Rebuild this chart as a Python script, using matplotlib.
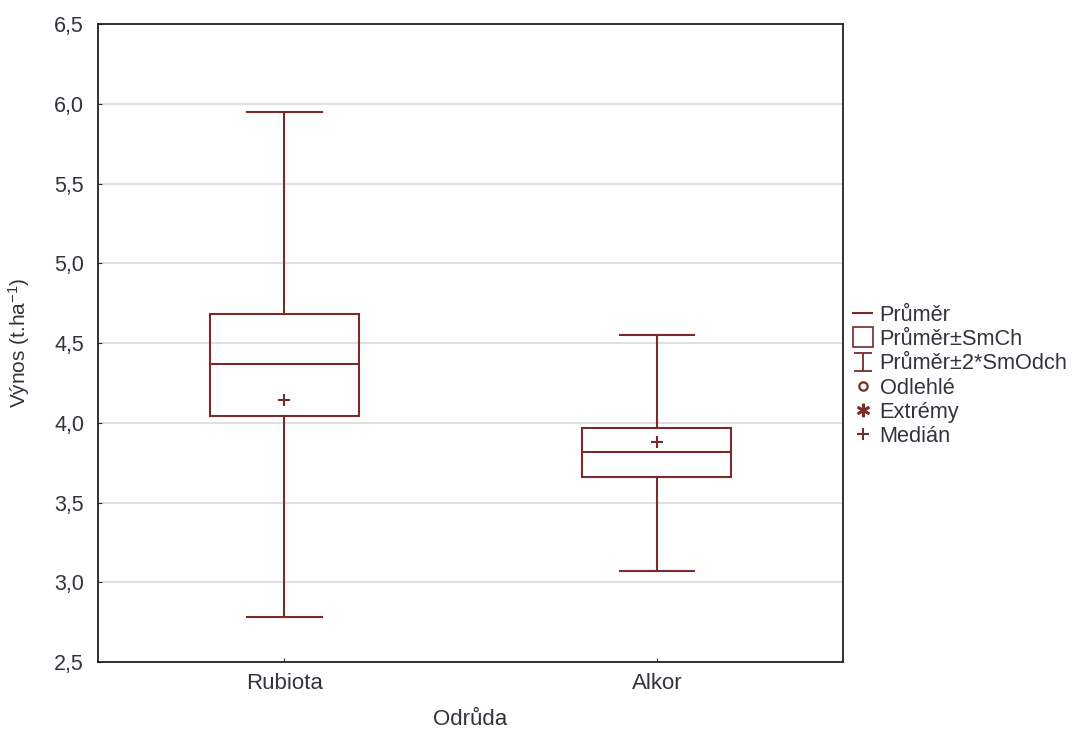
import matplotlib.pyplot as plt
from matplotlib.lines import Line2D
from matplotlib.patches import Rectangle
from matplotlib.path import Path

plt.rcParams['font.family'] = ['Liberation Sans', 'DejaVu Sans']

# values
odrudy = ['Rubiota', 'Alkor']
prumer = [4.37, 3.82]
smch_low = [4.04, 3.66]
smch_high = [4.68, 3.97]
smodch_low = [2.78, 3.07]
smodch_high = [5.95, 4.55]
median = [4.14, 3.88]

col = '#7a2a2a'
txt = '#33333d'
box_w = 0.4
cap_w = 0.2

fig = plt.figure(figsize=(10.8, 7.29), dpi=100)
ax = fig.add_axes([0.0907, 0.0919, 0.690, 0.875])

for i, name in enumerate(odrudy):
    x = i + 1
    ax.add_patch(Rectangle((x - box_w / 2, smch_low[i]), box_w, smch_high[i] - smch_low[i],
                           fill=False, edgecolor=col, lw=1.5, zorder=3))
    ax.plot([x - box_w / 2, x + box_w / 2], [prumer[i]] * 2, color=col, lw=1.5, zorder=3)
    ax.plot([x, x], [smch_high[i], smodch_high[i]], color=col, lw=1.5, zorder=3)
    ax.plot([x, x], [smodch_low[i], smch_low[i]], color=col, lw=1.5, zorder=3)
    for y in (smodch_low[i], smodch_high[i]):
        ax.plot([x - cap_w / 2, x + cap_w / 2], [y, y], color=col, lw=1.5, zorder=3)
    ax.plot(x, median[i], marker='+', ms=9, mew=1.5, color=col, zorder=4)

ax.set_xlim(0.5, 2.5)
ax.set_ylim(2.5, 6.5)
ax.set_xticks([1, 2])
ax.set_xticklabels(odrudy)
yt = [2.5, 3.0, 3.5, 4.0, 4.5, 5.0, 5.5, 6.0, 6.5]
ax.set_yticks(yt)
ax.set_yticklabels([f'{v:.1f}'.replace('.', ',') for v in yt])
ax.tick_params(axis='both', direction='in', length=3, colors=txt)
ax.tick_params(axis='x', labelsize=16, pad=8)
ax.tick_params(axis='y', labelsize=15.5, pad=10)
ax.grid(axis='y', color='#dadada', lw=1.2, zorder=0)
for s in ax.spines.values():
    s.set_color('#222222')
    s.set_linewidth(1.3)

ax.set_xlabel('Odrůda', fontsize=16, color=txt, labelpad=11)
ax.set_ylabel('Výnos (t.ha$\\mathregular{^{-1}}$)', fontsize=15, color=txt, labelpad=16)

ibar = Path([(-1, -1), (1, -1), (0, -1), (0, 1), (-1, 1), (1, 1)],
            [Path.MOVETO, Path.LINETO, Path.MOVETO, Path.LINETO, Path.MOVETO, Path.LINETO])
handles = [
    Line2D([], [], color=col, lw=1.5),
    Line2D([], [], color=col, marker='s', ms=14, mfc='none', mew=1.2, ls='none'),
    Line2D([], [], color=col, marker=ibar, ms=13, mfc='none', mew=1.3, ls='none'),
    Line2D([], [], color=col, marker='o', ms=6, mfc='none', mew=1.6, ls='none'),
    Line2D([], [], color=col, marker='$\\ast$', ms=9, ls='none'),
    Line2D([], [], color=col, marker='+', ms=8, mew=1.5, ls='none'),
]
labels = ['Průměr', 'Průměr±SmCh', 'Průměr±2*SmOdch', 'Odlehlé', 'Extrémy', 'Medián']
leg = fig.legend(handles, labels, loc='upper left', bbox_to_anchor=(0.782, 0.594),
                 frameon=False, fontsize=15.7, handlelength=0.85, handletextpad=0.36,
                 labelspacing=0.15, borderaxespad=0)
for t in leg.get_texts():
    t.set_color(txt)

fig.savefig('out.png', dpi=100)
